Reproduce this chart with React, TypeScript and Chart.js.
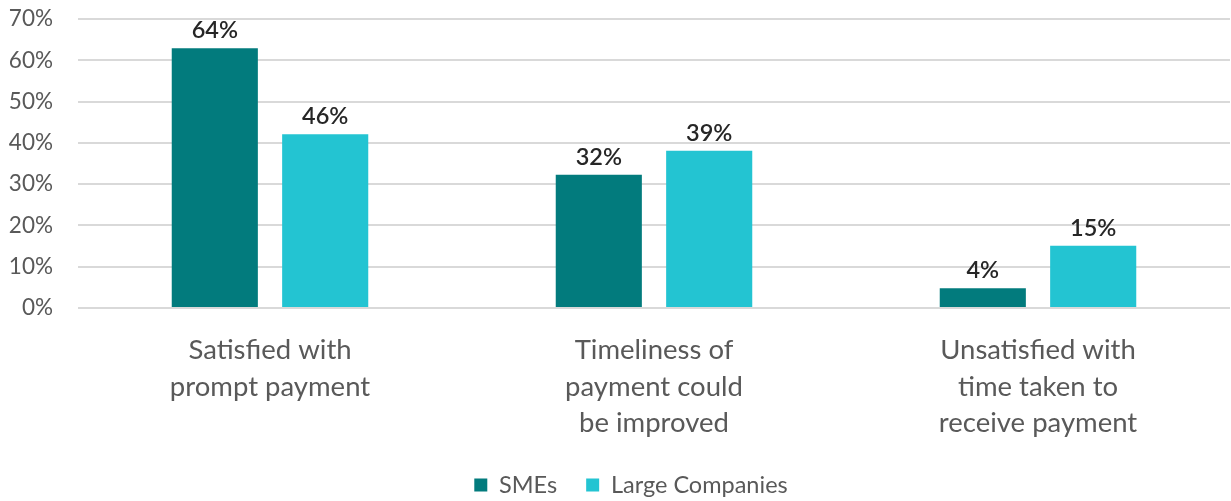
import React, { useEffect, useRef } from 'react';
import { Chart, registerables } from 'chart.js';

Chart.register(...registerables);

const categories: string[][] = [
  ['Satisfied with', 'prompt payment'],
  ['Timeliness of', 'payment could', 'be improved'],
  ['Unsatisfied with', 'time taken to', 'receive payment'],
];
const seriesNames = ['SMEs', 'Large Companies'];
const smeValues = [62.9, 32.3, 4.8];
const largeValues = [42.1, 38.1, 15.1];
const smeLabels = ['64%', '32%', '4%'];
const largeLabels = ['46%', '39%', '15%'];
const yMin = 0;
const yMax = 70;
const yStep = 10;

const SME_COLOR = '#027B7D';
const LARGE_COLOR = '#23C4D2';

const valueLabelPlugin = {
  id: 'valueLabels',
  afterDatasetsDraw(chart: any) {
    const ctx = chart.ctx;
    ctx.save();
    ctx.font = '600 23.5px Lato';
    ctx.fillStyle = '#262626';
    ctx.textAlign = 'center';
    ctx.textBaseline = 'alphabetic';
    chart.data.datasets.forEach((ds: any, i: number) => {
      const meta = chart.getDatasetMeta(i);
      meta.data.forEach((bar: any, j: number) => {
        ctx.fillText(ds.valueLabels[j], bar.x, bar.y - 10);
      });
    });
    ctx.restore();
  },
};

const legendShiftPlugin = {
  id: 'legendShift',
  afterLayout(chart: any) {
    const l = chart.legend;
    if (l) {
      l.left += 16;
      l.right += 16;
    }
  },
};

export default function App() {
  const ref = useRef<HTMLCanvasElement | null>(null);
  useEffect(() => {
    if (!ref.current) return;
    const chart = new Chart(ref.current, {
      type: 'bar',
      data: {
        labels: categories as any,
        datasets: [
          {
            label: seriesNames[0],
            data: smeValues,
            backgroundColor: SME_COLOR,
            categoryPercentage: 0.575,
            barPercentage: 0.78,
            valueLabels: smeLabels,
          } as any,
          {
            label: seriesNames[1],
            data: largeValues,
            backgroundColor: LARGE_COLOR,
            categoryPercentage: 0.575,
            barPercentage: 0.78,
            valueLabels: largeLabels,
          } as any,
        ],
      },
      options: {
        animation: false,
        responsive: true,
        maintainAspectRatio: false,
        layout: { padding: { top: 19, right: 1, bottom: -5.75, left: 0 } },
        plugins: {
          tooltip: { enabled: false },
          legend: {
            position: 'bottom',
            labels: {
              boxWidth: 13,
              boxHeight: 13,
              padding: 29,
              color: '#595959',
              font: { family: 'Lato', size: 23.5 },
            },
          },
        },
        scales: {
          x: {
            grid: { display: false, drawTicks: false },
            border: { display: false },
            ticks: {
              color: '#595959',
              padding: 24,
              maxRotation: 0,
              autoSkip: false,
              font: { family: 'Lato', size: 27.5, lineHeight: 1.33 },
            },
            afterFit: (scale: any) => {
              scale.height = 136.25;
            },
          },
          y: {
            min: yMin,
            max: yMax,
            border: { display: false },
            grid: { color: '#D9D9D9', lineWidth: 2, drawTicks: false },
            ticks: {
              stepSize: yStep,
              padding: 25,
              color: '#595959',
              font: { family: 'Lato', size: 22.5 },
              callback: (v: any) => v + '%',
            },
            afterFit: (scale: any) => {
              scale.width = 78;
              scale.paddingTop = 0;
              scale.paddingBottom = 0;
            },
          },
        },
      },
      plugins: [valueLabelPlugin, legendShiftPlugin],
    });
    return () => chart.destroy();
  }, []);
  return (
    <div style={{ position: 'fixed', left: 0, top: 0, width: 1231, height: 501, background: '#fff' }}>
      <canvas ref={ref} />
    </div>
  );
}
